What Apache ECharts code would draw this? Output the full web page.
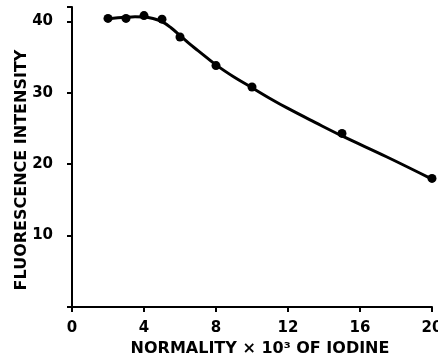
<!DOCTYPE html>
<html><head><meta charset="utf-8">
<script src="https://cdn.jsdelivr.net/npm/echarts@6/dist/echarts.min.js"></script>
<style>html,body{margin:0;padding:0;background:#fff}#c{width:438px;height:360px}</style>
</head><body><div id="c"></div>
<script>
// Measured points (normality x 10^3, fluorescence intensity)
var pointX = [2, 3, 4, 5, 6, 8, 10, 15, 20];
var pointY = [40.4, 40.4, 40.8, 40.3, 37.8, 33.8, 30.8, 24.3, 18.0];
// Fitted curve
var curveX = [2, 3, 3.5, 4, 4.5, 5, 5.5, 6, 6.5, 7, 8, 9, 10, 11, 12, 13.5, 15, 17.5, 20];
var curveY = [40.35, 40.55, 40.62, 40.6, 40.4, 39.95, 39.1, 38.0, 36.9, 35.9, 33.9, 32.2, 30.7, 29.2, 27.8, 25.85, 23.95, 21.0, 17.9];
var xTicks = [0, 4, 8, 12, 16, 20];
var yTicks = [10, 20, 30, 40];

function pairs(xs, ys){ return xs.map(function(x,i){return [x, ys[i]];}); }

var chart = echarts.init(document.getElementById('c'), null, {renderer:'canvas'});
var axisFont = {color:'#000', fontFamily:'DejaVu Sans', fontWeight:'bold', fontSize:15};
var titleFont = {color:'#000', fontFamily:'DejaVu Sans', fontWeight:'bold', fontSize:16};
chart.setOption({
  animation:false,
  backgroundColor:'#fff',
  grid:{left:72, right:6, top:7, bottom:53, containLabel:false, outerBoundsMode:'none'},
  xAxis:{
    type:'value', min:0, max:20, interval:4,
    name:'NORMALITY × 10³ OF IODINE', nameLocation:'middle', nameGap:34, nameMoveOverlap:false,
    nameTextStyle:Object.assign({padding:[0,0,0,16]}, titleFont),
    axisLine:{lineStyle:{color:'#000', width:2}},
    axisTick:{show:true, length:5, lineStyle:{color:'#000', width:2}},
    axisLabel:Object.assign({margin:14, formatter:function(v){return xTicks.indexOf(v)>=0? String(v):'';}}, axisFont),
    splitLine:{show:false}
  },
  yAxis:{
    type:'value', min:0, max:42, interval:10,
    name:'FLUORESCENCE INTENSITY', nameLocation:'middle', nameGap:42, nameMoveOverlap:false,
    nameTextStyle:Object.assign({padding:[0,26,0,0]}, titleFont),
    axisLine:{show:true, lineStyle:{color:'#000', width:2}},
    axisTick:{show:true, length:5, lineStyle:{color:'#000', width:2}},
    axisLabel:Object.assign({margin:19, formatter:function(v){return yTicks.indexOf(v)>=0? String(v):'';}}, axisFont),
    splitLine:{show:false}
  },
  series:[
    {type:'line', data:pairs(curveX, curveY), smooth:0.4, showSymbol:false,
     lineStyle:{color:'#000', width:3}, z:2},
    {type:'scatter', data:pairs(pointX, pointY), symbol:'circle', symbolSize:9,
     itemStyle:{color:'#000', opacity:1}, z:3}
  ]
});
</script></body></html>
